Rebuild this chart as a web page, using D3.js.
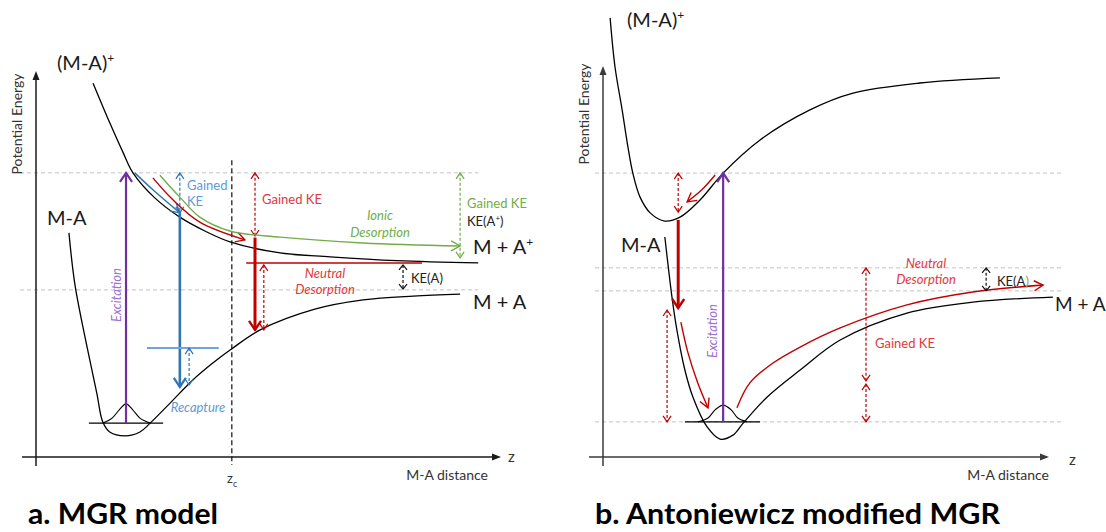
<!DOCTYPE html>
<html>
<head>
<meta charset="utf-8">
<script src="https://cdn.jsdelivr.net/npm/d3@7"></script>
<style>
  body { margin: 0; background: #fff; }
  svg { display: block; }
  text { font-family: Lato, "Open Sans", sans-serif; }
</style>
</head>
<body>
<svg id="chart" width="1106" height="532"></svg>
<script>
// ---------------------------------------------------------------
// Potential energy curves: x = M-A distance, y = potential energy
// (arbitrary units, 0..10 on each axis)
// ---------------------------------------------------------------

// Panel a: MGR model
const aCationCurve = [[1.23,9.71],[1.59,8.68],[1.88,7.90],[2.09,7.38],[2.56,6.73],[3.10,6.23],[3.64,5.87],[4.20,5.58],[5.26,5.30],[6.34,5.20],[7.78,5.10],[9.53,5.04]];
const aNeutralCurve = [[0.71,5.82],[0.84,4.47],[1.10,2.86],[1.31,1.66],[1.44,0.91],[1.59,0.65],[1.92,0.55],[2.24,0.65],[2.46,0.88],[2.89,1.40],[3.38,2.00],[3.81,2.44],[4.22,2.81],[4.83,3.30],[6.01,3.84],[7.05,4.08],[8.13,4.18],[9.14,4.23]];
const aVibration = [[1.44,0.88],[1.64,1.01],[1.79,1.22],[1.94,1.38],[2.09,1.22],[2.24,1.01],[2.46,0.88]];
const aGroundSpan = [1.14, 2.74];
const aLevels = [7.38, 4.34];          // excitation energy, M + A asymptote
const aZc = 4.22;                      // critical distance
const aBluePath = [[2.13,7.38],[2.52,6.94],[3.10,6.34]];
const aRedPath = [[2.52,7.25],[2.95,6.68],[3.53,6.10],[4.50,5.64]];
const aGreenPath = [[2.67,7.32],[3.10,6.75],[3.53,6.23],[4.18,5.87],[5.26,5.71],[7.05,5.56],[9.14,5.48]];
const aExcitation = {x: 1.94, from: 0.88, to: 7.38};
const aBlueDrop = {x: 3.10, from: 6.34, to: 1.82};
const aBlueGain = {x: 3.10, from: 7.38, to: 6.34};
const aRecaptureLevel = {y: 2.83, x0: 2.39, x1: 3.94};
const aRecaptureGap = {x: 3.30, from: 2.83, to: 1.87};
const aRedDrop = {x: 4.72, from: 5.70, to: 3.30};
const aRedGain = {x: 4.72, from: 7.38, to: 5.74};
const aRedLevel = {y: 5.04, x0: 4.53, x1: 8.32};
const aRedGap = {x: 4.91, from: 4.99, to: 3.30};
const aKeA = {x: 7.91, from: 4.99, to: 4.36};
const aGreenGain = {x: 9.14, from: 7.38, to: 5.17};

// Panel b: Antoniewicz modified MGR
const bCationCurve = [[0.16,11.26],[0.27,10.0],[0.43,8.90],[0.56,7.95],[0.67,7.28],[0.83,6.67],[1.06,6.26],[1.39,6.05],[1.73,6.15],[2.18,6.59],[2.70,7.28],[3.53,8.13],[4.65,8.90],[5.62,9.33],[7.12,9.59],[8.92,9.72]];
const bNeutralCurve = [[1.39,5.64],[1.55,4.10],[1.66,3.26],[1.84,2.23],[2.02,1.54],[2.34,0.77],[2.63,0.46],[2.92,0.56],[3.15,0.87],[3.69,1.54],[4.43,2.23],[5.33,3.00],[6.83,3.69],[8.31,3.97],[10.11,4.10]];
const bVibration = [[2.13,0.90],[2.36,1.00],[2.52,1.21],[2.70,1.33],[2.88,1.21],[3.03,1.00],[3.24,0.90]];
const bGroundSpan = [1.84, 3.53];
const bLevels = [7.28, 4.85, 4.26, 0.90];
const bRelaxPath = [[2.52,7.23],[2.22,6.85],[1.89,6.54]];
const bSlidePath = [[1.75,3.46],[1.91,2.67],[2.13,1.90],[2.36,1.26]];
const bEscapePath = [[3.01,1.26],[3.30,1.90],[3.82,2.41],[4.43,2.82],[5.33,3.31],[6.83,3.90],[8.31,4.23],[9.89,4.41]];
const bExcitation = {x: 2.70, from: 0.90, to: 7.28};
const bIonGain = {x: 1.69, from: 7.28, to: 6.28};
const bDrop = {x: 1.69, from: 6.08, to: 3.82};
const bWallGain = {x: 1.44, from: 3.77, to: 0.90};
const bGainUpper = {x: 5.91, from: 4.85, to: 1.95};
const bGainLower = {x: 5.91, from: 1.87, to: 0.90};
const bKeA = {x: 8.61, from: 4.85, to: 4.26};

// ---------------------------------------------------------------
const C = {
  ink: '#000000', axis: '#1a1a1a', grid: '#c3c3c3',
  purple: '#7030a0', purpleText: '#9d6fcf',
  blue: '#2e75b6', blueText: '#5b9bd5', blueLight: '#6fa3da',
  red: '#c00000', redText: '#e2383d', green: '#70ad47'
};

const svg = d3.select('#chart');

const xa = d3.scaleLinear().domain([0, 10]).range([36, 500]);
const ya = d3.scaleLinear().domain([0, 10]).range([457, 72]);
const xb = d3.scaleLinear().domain([0, 10]).range([603, 1048]);
const yb = d3.scaleLinear().domain([0, 10]).range([457, 67]);

function lineGen(x, y) {
  return d3.line().x(d => x(d[0])).y(d => y(d[1])).curve(d3.curveCatmullRom.alpha(0.5));
}

function chevron(g, tip, dir, len, half, color, width) {
  const [dx, dy] = dir, nx = -dy, ny = dx;
  const pts = [
    [tip[0] - len * dx + half * nx, tip[1] - len * dy + half * ny],
    tip,
    [tip[0] - len * dx - half * nx, tip[1] - len * dy - half * ny]
  ];
  g.append('path').attr('d', d3.line()(pts))
    .attr('fill', 'none').attr('stroke', color).attr('stroke-width', width)
    .attr('stroke-linejoin', 'miter').attr('stroke-linecap', 'butt');
}

// vertical arrow; head at "to", optionally also at "from"
function vArrow(g, x, y, a, o) {
  const px = x(a.x), p0 = y(a.from), p1 = y(a.to);
  const s = g.append('line').attr('x1', px).attr('x2', px).attr('y1', p0).attr('y2', p1)
    .attr('stroke', o.color).attr('stroke-width', o.width);
  if (o.dash) s.attr('stroke-dasharray', o.dash);
  const dir = p1 > p0 ? [0, 1] : [0, -1];
  chevron(g, [px, p1], dir, o.len, o.half, o.color, o.headWidth || o.width);
  if (o.both) chevron(g, [px, p0], [0, -dir[1]], o.len, o.half, o.color, o.headWidth || o.width);
}

// curved arrow following a path, head at the last point
function curveArrow(g, x, y, pts, o) {
  const p = g.append('path').attr('d', lineGen(x, y)(pts))
    .attr('fill', 'none').attr('stroke', o.color).attr('stroke-width', o.width);
  const node = p.node(), L = node.getTotalLength();
  const e = node.getPointAtLength(L), b = node.getPointAtLength(Math.max(0, L - 5));
  const dx = e.x - b.x, dy = e.y - b.y, n = Math.hypot(dx, dy) || 1;
  chevron(g, [e.x, e.y], [dx / n, dy / n], o.len, o.half, o.color, o.width);
}

function curve(g, x, y, pts, color, width) {
  g.append('path').attr('d', lineGen(x, y)(pts))
    .attr('fill', 'none').attr('stroke', color).attr('stroke-width', width);
}

function gridLine(g, x0, x1, yv) {
  g.append('line').attr('x1', x0).attr('x2', x1).attr('y1', yv).attr('y2', yv)
    .attr('stroke', C.grid).attr('stroke-width', 1).attr('stroke-dasharray', '4,3');
}

function label(g, px, py, str, o = {}) {
  const t = g.append('text').attr('x', px).attr('y', py).attr('dy', '0.35em')
    .attr('font-size', o.size || 13).attr('fill', o.color || '#222')
    .attr('text-anchor', o.anchor || 'start');
  if (o.italic) t.attr('font-style', 'italic');
  if (o.weight) t.attr('font-weight', o.weight);
  if (o.rotate) t.attr('transform', `rotate(-90,${px},${py})`);
  t.text(str);
  return t;
}

// label with a superscript "+"
function labelSup(g, px, py, base, sup, size, color) {
  const t = g.append('text').attr('x', px).attr('y', py).attr('dy', '0.35em')
    .attr('font-size', size).attr('fill', color || '#1a1a1a');
  t.append('tspan').text(base);
  t.append('tspan').attr('font-size', size * 0.6).attr('dy', -size * 0.38).text(sup);
  return t;
}

function title(g, px, py, str, width) {
  g.append('text').attr('x', px).attr('y', py).attr('font-size', 28).attr('font-weight', 700)
    .attr('fill', '#000').attr('textLength', width).attr('lengthAdjust', 'spacingAndGlyphs').text(str);
}

function axes(g, x, y, color) {
  const ox = x(0), oy = y(0), tx = x(10), ty = y(10);
  g.append('line').attr('x1', ox).attr('x2', ox).attr('y1', oy + 9).attr('y2', ty + 6)
    .attr('stroke', color).attr('stroke-width', 1.5);
  g.append('line').attr('x1', ox - 14).attr('x2', tx - 6).attr('y1', oy).attr('y2', oy)
    .attr('stroke', color).attr('stroke-width', 1.5);
  g.append('path').attr('d', `M${ox},${ty - 1}L${ox - 3.5},${ty + 8}L${ox + 3.5},${ty + 8}Z`).attr('fill', color);
  g.append('path').attr('d', `M${tx + 1},${oy}L${tx - 8},${oy - 3.5}L${tx - 8},${oy + 3.5}Z`).attr('fill', color);
}

// ======================= Panel a =======================
const ga = svg.append('g');
aLevels.forEach(v => gridLine(ga, xa(0) - 16, xa(9.53), ya(v)));
axes(ga, xa, ya, C.axis);

// critical distance
ga.append('line').attr('x1', xa(aZc)).attr('x2', xa(aZc)).attr('y1', ya(7.71)).attr('y2', ya(0) + 8)
  .attr('stroke', '#222').attr('stroke-width', 1.3).attr('stroke-dasharray', '5,3');

curve(ga, xa, ya, aCationCurve, C.ink, 1.3);
curve(ga, xa, ya, aNeutralCurve, C.ink, 1.3);
curve(ga, xa, ya, aVibration, C.ink, 1.1);
ga.append('line').attr('x1', xa(aGroundSpan[0])).attr('x2', xa(aGroundSpan[1]))
  .attr('y1', ya(aVibration[0][1])).attr('y2', ya(aVibration[0][1])).attr('stroke', C.ink).attr('stroke-width', 1.1);

// excitation
vArrow(ga, xa, ya, aExcitation, {color: C.purple, width: 2.2, len: 9, half: 6});

// blue: neutralisation and recapture
curveArrow(ga, xa, ya, aBluePath, {color: C.blue, width: 1.4, len: 9, half: 5});
vArrow(ga, xa, ya, aBlueGain, {color: C.blue, width: 1.2, dash: '3,2', len: 6, half: 4, both: true});
vArrow(ga, xa, ya, aBlueDrop, {color: C.blue, width: 2.6, len: 9, half: 6, headWidth: 2.2});
ga.append('line').attr('x1', xa(aRecaptureLevel.x0)).attr('x2', xa(aRecaptureLevel.x1))
  .attr('y1', ya(aRecaptureLevel.y)).attr('y2', ya(aRecaptureLevel.y))
  .attr('stroke', C.blueLight).attr('stroke-width', 2);
vArrow(ga, xa, ya, aRecaptureGap, {color: C.blue, width: 1.2, dash: '3,2', len: 6, half: 4, both: true});

// red: neutral desorption
curveArrow(ga, xa, ya, aRedPath, {color: C.red, width: 1.4, len: 9, half: 5});
vArrow(ga, xa, ya, aRedGain, {color: C.red, width: 1.2, dash: '3,2', len: 6, half: 4, both: true});
vArrow(ga, xa, ya, aRedDrop, {color: C.red, width: 3, len: 9, half: 6, headWidth: 2.4});
ga.append('line').attr('x1', xa(aRedLevel.x0)).attr('x2', xa(aRedLevel.x1))
  .attr('y1', ya(aRedLevel.y)).attr('y2', ya(aRedLevel.y))
  .attr('stroke', C.red).attr('stroke-width', 1.6);
vArrow(ga, xa, ya, aRedGap, {color: C.red, width: 1.2, dash: '3,2', len: 6, half: 4, both: true});

// green: ionic desorption
curveArrow(ga, xa, ya, aGreenPath, {color: C.green, width: 1.4, len: 9, half: 5});
vArrow(ga, xa, ya, aGreenGain, {color: C.green, width: 1.2, dash: '3,2', len: 6, half: 4, both: true});

// kinetic energy of the neutral
vArrow(ga, xa, ya, aKeA, {color: '#111', width: 1.2, dash: '3,2', len: 5, half: 4, both: true});

// labels
labelSup(ga, 57, 63, '(M-A)', '+', 20);
label(ga, 47, 218, 'M-A', {size: 20, color: '#1a1a1a'});
labelSup(ga, 473, 247, 'M + A', '+', 20);
label(ga, 473, 302, 'M + A', {size: 20, color: '#1a1a1a'});
label(ga, 187, 185, 'Gained', {color: C.blueText});
label(ga, 187, 201, 'KE', {color: C.blueText});
label(ga, 262, 199, 'Gained KE', {color: C.redText});
label(ga, 380, 215, 'Ionic', {color: C.green, italic: true, anchor: 'middle'});
label(ga, 380, 232, 'Desorption', {color: C.green, italic: true, anchor: 'middle'});
label(ga, 467, 203, 'Gained KE', {color: C.green});
labelSup(ga, 467, 221, 'KE(A', '+', 13, '#222').append('tspan').attr('dy', 13 * 0.38).text(')');
label(ga, 325, 273, 'Neutral', {color: C.redText, italic: true, anchor: 'middle'});
label(ga, 325, 289, 'Desorption', {color: C.redText, italic: true, anchor: 'middle'});
label(ga, 411, 278, 'KE(A)', {color: '#222'});
label(ga, 198, 407, 'Recapture', {color: C.blueText, italic: true, anchor: 'middle'});
label(ga, 116, 295, 'Excitation', {color: C.purpleText, italic: true, anchor: 'middle', rotate: true});

label(ga, 17, 124, 'Potential Energy', {size: 14, color: '#333', anchor: 'middle', rotate: true});
label(ga, 508, 457, 'z', {size: 15, color: '#333'});
const zc = ga.append('text').attr('x', 227).attr('y', 478).attr('dy', '0.35em').attr('font-size', 13).attr('fill', '#333');
zc.append('tspan').text('z');
zc.append('tspan').attr('font-size', 9).attr('dy', 4).text('c');
label(ga, 488, 475, 'M-A distance', {size: 14, color: '#333', anchor: 'end'});
title(ga, 28, 524, 'a. MGR model', 190);

// ======================= Panel b =======================
const gb = svg.append('g');
bLevels.forEach(v => gridLine(gb, xb(0) - 8, xb(10.34), yb(v)));
axes(gb, xb, yb, '#3a3a3a');

curve(gb, xb, yb, bCationCurve, C.ink, 1.3);
curve(gb, xb, yb, bNeutralCurve, C.ink, 1.3);
curve(gb, xb, yb, bVibration, C.ink, 1.1);
gb.append('line').attr('x1', xb(bGroundSpan[0])).attr('x2', xb(bGroundSpan[1]))
  .attr('y1', yb(bVibration[0][1])).attr('y2', yb(bVibration[0][1])).attr('stroke', C.ink).attr('stroke-width', 1.1);

vArrow(gb, xb, yb, bExcitation, {color: C.purple, width: 2.2, len: 9, half: 6});
curveArrow(gb, xb, yb, bRelaxPath, {color: C.red, width: 1.4, len: 9, half: 5});
vArrow(gb, xb, yb, bIonGain, {color: C.red, width: 1.2, dash: '3,2', len: 6, half: 4, both: true});
vArrow(gb, xb, yb, bDrop, {color: C.red, width: 3, len: 9, half: 6, headWidth: 2.4});
vArrow(gb, xb, yb, bWallGain, {color: C.red, width: 1.2, dash: '3,2', len: 6, half: 4, both: true});
curveArrow(gb, xb, yb, bSlidePath, {color: C.red, width: 1.4, len: 9, half: 5});
curveArrow(gb, xb, yb, bEscapePath, {color: C.red, width: 1.4, len: 9, half: 5});
vArrow(gb, xb, yb, bGainUpper, {color: C.red, width: 1.2, dash: '3,2', len: 6, half: 4, both: true});
vArrow(gb, xb, yb, bGainLower, {color: C.red, width: 1.2, dash: '3,2', len: 6, half: 4, both: true});
vArrow(gb, xb, yb, bKeA, {color: '#111', width: 1.2, dash: '3,2', len: 5, half: 4, both: true});

labelSup(gb, 627, 20, '(M-A)', '+', 20);
label(gb, 621, 245, 'M-A', {size: 20, color: '#1a1a1a'});
label(gb, 1055, 304, 'M + A', {size: 19, color: '#1a1a1a'});
label(gb, 926, 263, 'Neutral', {color: C.redText, italic: true, anchor: 'middle'});
label(gb, 926, 279, 'Desorption', {color: C.redText, italic: true, anchor: 'middle'});
const keb = label(gb, 997, 281, 'KE(A', {color: '#222'});
keb.append('tspan').attr('fill', C.green).text(')');
label(gb, 875, 343, 'Gained KE', {color: C.redText});
label(gb, 712, 331, 'Excitation', {color: C.purpleText, italic: true, anchor: 'middle', rotate: true});

label(gb, 584, 114, 'Potential Energy', {size: 14, color: '#333', anchor: 'middle', rotate: true});
label(gb, 1069, 460, 'z', {size: 15, color: '#333'});
label(gb, 1049, 475, 'M-A distance', {size: 14, color: '#333', anchor: 'end'});
title(gb, 595, 524, 'b. Antoniewicz modified MGR', 405);
</script>
</body>
</html>
